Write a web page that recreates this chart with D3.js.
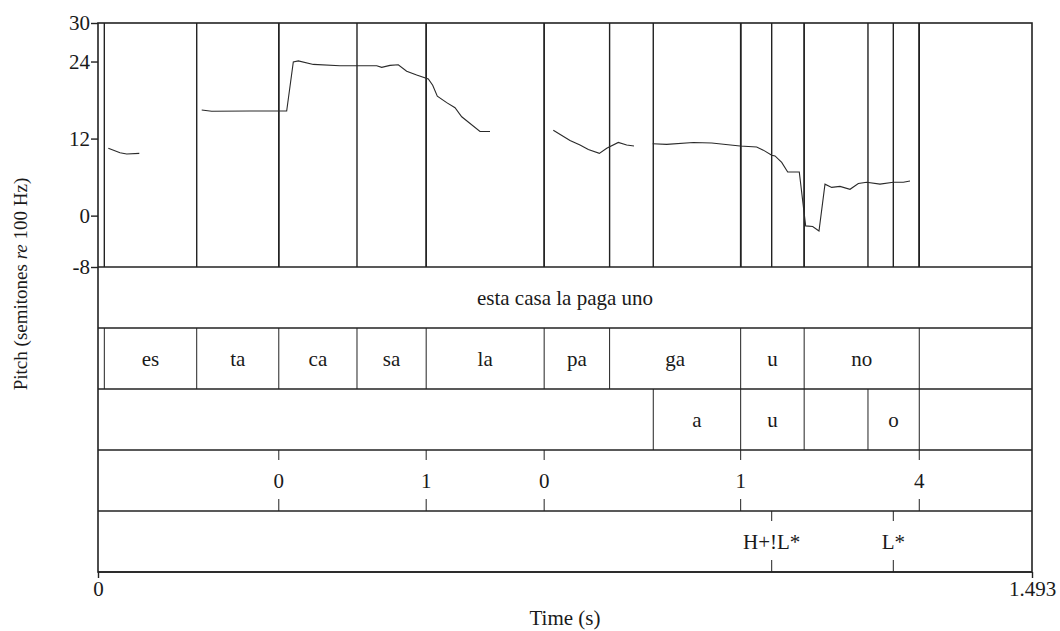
<!DOCTYPE html>
<html>
<head>
<meta charset="utf-8">
<script src="https://cdn.jsdelivr.net/npm/d3@7"></script>
<style>
  body { margin: 0; background: #fff; }
  text { font-family: "Liberation Serif", "Times New Roman", serif; fill: #1a1a1a; }
</style>
</head>
<body>
<div id="chart"></div>
<script>
// DATA
//=====================
var yTicks = [-8, 0, 12, 24, 30];
var xTicks = [0, 1.493];

// pitch contour, [time (s), semitones]
var contour1 = [[0.0165, 10.5], [0.0352, 9.8], [0.0459, 9.6], [0.066, 9.7]];
var contour2 = [[0.1658, 16.45], [0.1817, 16.25], [0.243, 16.3], [0.3016, 16.3], [0.3122, 23.95],
    [0.3202, 24.1], [0.3442, 23.55], [0.3868, 23.35], [0.4455, 23.35], [0.4535, 23.1], [0.4668, 23.4],
    [0.48, 23.5], [0.4934, 22.5], [0.5094, 21.9], [0.528, 21.3], [0.535, 20.3], [0.5424, 18.6],
    [0.5574, 17.6], [0.5707, 16.8], [0.5814, 15.4], [0.6106, 13.1], [0.6266, 13.1]];
var contour3 = [[0.7278, 13.3], [0.7545, 11.7], [0.7705, 11.0], [0.7838, 10.3], [0.8014, 9.7],
    [0.8132, 10.5], [0.8317, 11.4], [0.8451, 11.0], [0.8568, 10.85]];
var contour4 = [[0.8867, 11.2], [0.909, 11.1], [0.9516, 11.4], [0.981, 11.3], [1.0262, 10.85],
    [1.0529, 10.7], [1.0635, 10.2], [1.0769, 9.4], [1.0822, 9.3], [1.0929, 8.3], [1.1025, 6.8],
    [1.121, 6.8], [1.1312, -1.6], [1.1424, -1.7], [1.1525, -2.4], [1.1621, 4.9], [1.1728, 4.4],
    [1.1861, 4.55], [1.2021, 4.1], [1.2154, 5.0], [1.2288, 5.2], [1.25, 4.9], [1.2713, 5.2],
    [1.2873, 5.2], [1.298, 5.4]];

// text grid tiers
var wordBounds = [0, 1.493];
var wordLabels = ["esta casa la paga uno"];
var syllableBounds = [0, 0.0101, 0.1578, 0.289, 0.414, 0.5246, 0.7132, 0.8178, 1.0273, 1.1288, 1.3128, 1.493];
var syllableLabels = ["", "es", "ta", "ca", "sa", "la", "pa", "ga", "u", "no", ""];
var vowelBounds = [0, 0.8876, 1.0273, 1.1288, 1.2308, 1.3128, 1.493];
var vowelLabels = ["", "a", "u", "", "o", ""];
var breakTimes = [0.289, 0.5246, 0.7132, 1.0273, 1.3128];
var breakLabels = ["0", "1", "0", "1", "4"];
var toneTimes = [1.0769, 1.2713];
var toneLabels = ["H+!L*", "L*"];

// SETUP
//=====================
var svgWidth = 1060;
var svgHeight = 631;
var margin = { top: 23, right: 28, bottom: 59, left: 98 };
var width = svgWidth - margin.left - margin.right;
var pitchHeight = 244;
var tierHeight = 61;
var line = "#222";

var svg = d3.select("#chart")
    .append("svg")
    .attr("width", svgWidth)
    .attr("height", svgHeight);

var chartGroup = svg.append("g")
    .attr("transform", `translate(${margin.left}, ${margin.top})`);

var xScale = d3.scaleLinear().domain([0, 1.493]).range([0, width]);
var yScale = d3.scaleLinear().domain([-8, 30]).range([pitchHeight, 0]);

// PITCH PANEL
//=====================
var allBounds = []
    .concat(syllableBounds, vowelBounds, breakTimes, toneTimes)
    .filter(t => t > 0 && t < 1.493);

chartGroup.append("g").selectAll("line")
    .data(allBounds)
    .enter()
    .append("line")
    .attr("x1", d => xScale(d))
    .attr("x2", d => xScale(d))
    .attr("y1", 0)
    .attr("y2", pitchHeight)
    .attr("stroke", line)
    .attr("stroke-width", 1.4);

var pitchLine = d3.line()
    .x(d => xScale(d[0]))
    .y(d => yScale(d[1]));

chartGroup.append("g").selectAll("path")
    .data([contour1, contour2, contour3, contour4])
    .enter()
    .append("path")
    .attr("d", pitchLine)
    .attr("fill", "none")
    .attr("stroke", "#2a2a2a")
    .attr("stroke-width", 1.1);

var yAxis = d3.axisLeft(yScale).tickValues(yTicks).tickSize(7).tickPadding(1).tickFormat(d => String(d));
var yAxisG = chartGroup.append("g").call(yAxis);
yAxisG.select(".domain").remove();
yAxisG.selectAll("line").attr("stroke", line).attr("stroke-width", 1.4);
yAxisG.selectAll("text").attr("font-size", 21).attr("font-family", "Liberation Serif").attr("fill", "#1a1a1a");

// TIERS
//=====================
function intervalTier(index, bounds, labels) {
    var g = chartGroup.append("g")
        .attr("transform", `translate(0, ${pitchHeight + index * tierHeight})`);
    var inner = bounds.slice(1, -1);
    g.selectAll("line")
        .data(inner)
        .enter()
        .append("line")
        .attr("x1", d => xScale(d))
        .attr("x2", d => xScale(d))
        .attr("y1", 0)
        .attr("y2", tierHeight)
        .attr("stroke", line)
        .attr("stroke-width", 1);
    g.selectAll("text")
        .data(labels)
        .enter()
        .append("text")
        .attr("x", (d, i) => (xScale(bounds[i]) + xScale(bounds[i + 1])) / 2)
        .attr("y", tierHeight / 2 + 7)
        .attr("text-anchor", "middle")
        .attr("font-size", 21)
        .text(d => d);
}

function pointTier(index, times, labels) {
    var g = chartGroup.append("g")
        .attr("transform", `translate(0, ${pitchHeight + index * tierHeight})`);
    var pts = g.selectAll("g")
        .data(times)
        .enter()
        .append("g");
    pts.append("line")
        .attr("x1", d => xScale(d)).attr("x2", d => xScale(d))
        .attr("y1", 0).attr("y2", 10)
        .attr("stroke", line).attr("stroke-width", 1);
    pts.append("line")
        .attr("x1", d => xScale(d)).attr("x2", d => xScale(d))
        .attr("y1", tierHeight - 12).attr("y2", tierHeight)
        .attr("stroke", line).attr("stroke-width", 1);
    pts.append("text")
        .attr("x", d => xScale(d))
        .attr("y", tierHeight / 2 + 7)
        .attr("text-anchor", "middle")
        .attr("font-size", 21)
        .text((d, i) => labels[i]);
}

intervalTier(0, wordBounds, wordLabels);
intervalTier(1, syllableBounds, syllableLabels);
intervalTier(2, vowelBounds, vowelLabels);
pointTier(3, breakTimes, breakLabels);
pointTier(4, toneTimes, toneLabels);

// tier separators
var sepY = d3.range(0, 6).map(i => pitchHeight + i * tierHeight);
chartGroup.append("g").selectAll("line")
    .data(sepY)
    .enter()
    .append("line")
    .attr("x1", 0).attr("x2", width)
    .attr("y1", d => d).attr("y2", d => d)
    .attr("stroke", line)
    .attr("stroke-width", 1.6);

var totalHeight = pitchHeight + 5 * tierHeight;

// outer frame
chartGroup.append("rect")
    .attr("x", 0).attr("y", 0)
    .attr("width", width).attr("height", totalHeight)
    .attr("fill", "none")
    .attr("stroke", line)
    .attr("stroke-width", 1.6);

// X AXIS
//=====================
var xAxis = d3.axisBottom(xScale).tickValues(xTicks).tickSize(6).tickPadding(3)
    .tickFormat(d => d === 0 ? "0" : "1.493");
var xAxisG = chartGroup.append("g")
    .attr("transform", `translate(0, ${totalHeight})`)
    .call(xAxis);
xAxisG.select(".domain").remove();
xAxisG.selectAll("line").attr("stroke", line).attr("stroke-width", 1.4);
xAxisG.selectAll("text").attr("font-size", 21).attr("font-family", "Liberation Serif").attr("fill", "#1a1a1a");

// AXES LABELS
//=====================
chartGroup.append("text")
    .attr("x", width / 2)
    .attr("y", totalHeight + 53)
    .attr("text-anchor", "middle")
    .attr("font-size", 21)
    .text("Time (s)");

var yLabel = svg.append("text")
    .attr("transform", "translate(27, 284) rotate(-90)")
    .attr("text-anchor", "middle")
    .attr("font-size", 19);
yLabel.append("tspan").text("Pitch (semitones ");
yLabel.append("tspan").attr("font-style", "italic").text("re");
yLabel.append("tspan").text(" 100 Hz)");
</script>
</body>
</html>
